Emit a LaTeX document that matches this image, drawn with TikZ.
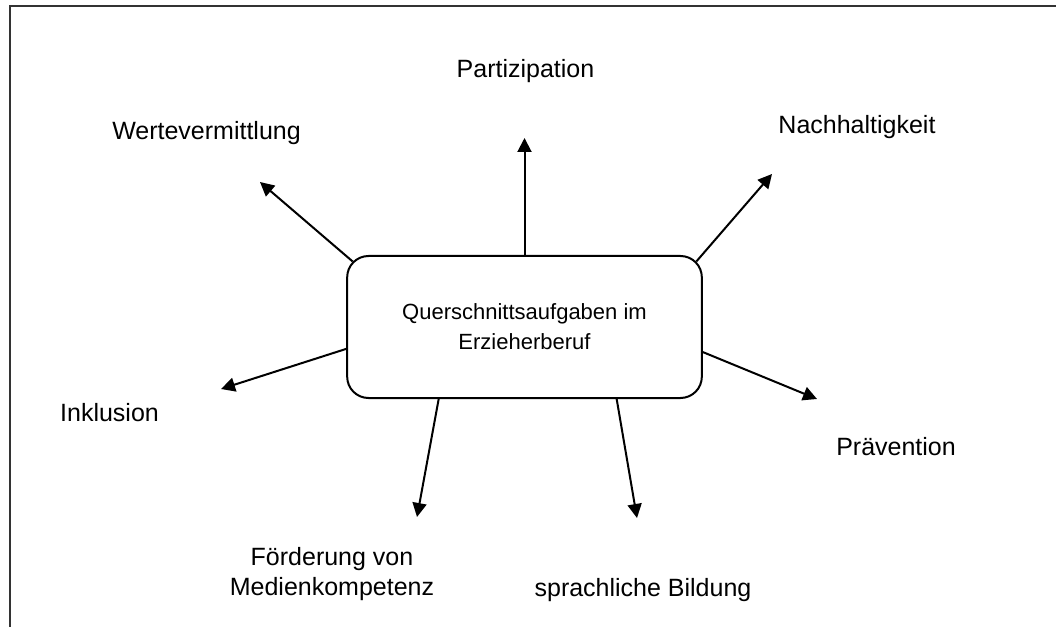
\documentclass[tikz,border=0pt]{standalone}
\usepackage{fontspec}
\setmainfont{Liberation Sans}
\usepackage{tikz}
\usetikzlibrary{arrows.meta,positioning,calc}

\tikzset{
  task/.style={font=\fontsize{18.75}{22.5}\selectfont, inner sep=0pt, anchor=base},
  hub/.style={draw, line width=1.5pt, rounded corners=16pt, minimum width=266pt,
    minimum height=106.5pt, align=center, font=\fontsize{16.5}{22.5}\selectfont},
  spoke/.style={-{Triangle[length=10.5pt,width=10.5pt]}, line width=1.5pt},
}

\begin{document}
\begin{tikzpicture}[x=0.75pt,y=-0.75pt]
  \useasboundingbox (0,0) rectangle (1056,627);
  % Frame
  \draw[line width=1.5pt, black!80] (10,627) -- (10,6) -- (1056,6);

  % Centre box
  \node[hub] (hub) at (524.5,327) {Querschnittsaufgaben im\\Erzieherberuf};

  % Tasks
  \node[task] (partizipation) at (525.5,78) {Partizipation};
  \node[task] (werte) at (206.5,140) {Wertevermittlung};
  \node[task] (nachhaltigkeit) at (857,134) {Nachhaltigkeit};
  \node[task] (inklusion) at (109.5,421) {Inklusion};
  \node[task] (praevention) at (896,455) {Prävention};
  \node[task, align=center, anchor=center] (medien) at (332,574) {Förderung von\\Medienkompetenz};
  \node[task] (sprache) at (643,596) {sprachliche Bildung};

  % Arrow tips
  \coordinate (tipPart) at (524.5,138);
  \coordinate (tipWerte) at (260,182);
  \coordinate (tipNach) at (772,174);
  \coordinate (tipInkl) at (221,389);
  \coordinate (tipPraev) at (817,399);
  \coordinate (tipMedien) at (417,517);
  \coordinate (tipSprache) at (637,518);

  \draw[spoke] (hub.north) -- (tipPart);
  \draw[spoke] ($(hub.north west)+(6.5,6.5)$) -- (tipWerte);
  \draw[spoke] ($(hub.north east)+(-6.5,6.5)$) -- (tipNach);
  \draw[spoke] (hub.187.5) -- (tipInkl);
  \draw[spoke] (hub.352) -- (tipPraev);
  \draw[spoke] (hub.220) -- (tipMedien);
  \draw[spoke] (hub.322.8) -- (tipSprache);
\end{tikzpicture}
\end{document}
